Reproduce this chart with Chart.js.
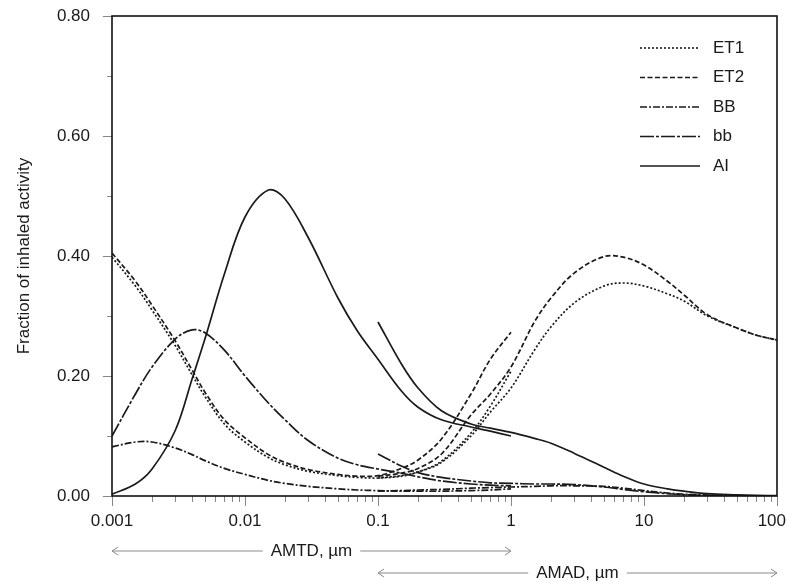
<!DOCTYPE html>
<html>
<head>
<meta charset="utf-8">
<script src="https://cdn.jsdelivr.net/npm/chart.js@4.4.1/dist/chart.umd.min.js"></script>
<style>
  html, body { margin: 0; padding: 0; background: #fff; }
  #wrap { width: 790px; height: 581px; }
</style>
</head>
<body>
<div id="wrap"><canvas id="deposition"></canvas></div>
<script>
// --- particle sizes (µm) ---
const amtdSizes = [0.001, 0.0015, 0.002, 0.003, 0.004, 0.005, 0.007, 0.01, 0.015, 0.02, 0.03, 0.05, 0.07, 0.1, 0.15, 0.2, 0.3, 0.5, 0.7, 1];
const amadSizes = [0.1, 0.15, 0.2, 0.3, 0.5, 0.7, 1, 1.5, 2, 3, 5, 7, 10, 15, 20, 30, 50, 70, 100];

// --- deposited fraction vs AMTD ---
const et1Amtd = [0.398, 0.35, 0.31, 0.25, 0.202, 0.166, 0.12, 0.09, 0.064, 0.052, 0.041, 0.034, 0.031, 0.03, 0.033, 0.04, 0.058, 0.105, 0.15, 0.208];
const et2Amtd = [0.405, 0.358, 0.318, 0.258, 0.21, 0.173, 0.127, 0.097, 0.069, 0.056, 0.044, 0.036, 0.033, 0.034, 0.046, 0.06, 0.095, 0.17, 0.228, 0.273];
const bbAmtd  = [0.082, 0.09, 0.09, 0.08, 0.069, 0.059, 0.046, 0.036, 0.026, 0.021, 0.016, 0.012, 0.01, 0.009, 0.008, 0.008, 0.008, 0.009, 0.01, 0.012];
const bbsAmtd = [0.10, 0.17, 0.215, 0.262, 0.277, 0.272, 0.243, 0.2, 0.155, 0.127, 0.092, 0.063, 0.052, 0.045, 0.038, 0.032, 0.025, 0.02, 0.018, 0.017];
const aiAmtd  = [0.003, 0.02, 0.045, 0.11, 0.195, 0.262, 0.37, 0.465, 0.51, 0.495, 0.43, 0.33, 0.275, 0.228, 0.175, 0.148, 0.127, 0.115, 0.108, 0.10];

// --- deposited fraction vs AMAD ---
const et1Amad = [0.03, 0.034, 0.04, 0.056, 0.1, 0.14, 0.18, 0.243, 0.282, 0.322, 0.35, 0.355, 0.35, 0.337, 0.325, 0.3, 0.28, 0.268, 0.26];
const et2Amad = [0.033, 0.038, 0.046, 0.07, 0.135, 0.17, 0.215, 0.29, 0.33, 0.372, 0.399, 0.398, 0.385, 0.358, 0.335, 0.302, 0.28, 0.268, 0.26];
const bbAmad  = [0.008, 0.009, 0.01, 0.011, 0.013, 0.014, 0.015, 0.016, 0.017, 0.017, 0.016, 0.013, 0.009, 0.005, 0.003, 0.0015, 0.0005, 0.0002, 0];
const bbsAmad = [0.07, 0.05, 0.039, 0.031, 0.025, 0.022, 0.021, 0.02, 0.02, 0.019, 0.015, 0.011, 0.007, 0.004, 0.002, 0.001, 0.0005, 0.0002, 0];
const aiAmad  = [0.29, 0.22, 0.18, 0.142, 0.12, 0.113, 0.106, 0.096, 0.088, 0.071, 0.048, 0.033, 0.02, 0.012, 0.008, 0.004, 0.002, 0.001, 0.0005];

// --- axis ticks ---
const xTickValues = [0.001, 0.01, 0.1, 1, 10, 100];
const xTickLabels = ['0.001', '0.01', '0.1', '1', '10', '100'];
const yTickValues = [0, 0.2, 0.4, 0.6, 0.8];

// region names with their line styles
const regions = [
  { name: 'ET1', dash: [2, 2],          amtd: et1Amtd, amad: et1Amad },
  { name: 'ET2', dash: [5, 2.5],        amtd: et2Amtd, amad: et2Amad },
  { name: 'BB',  dash: [7, 2, 2, 2],    amtd: bbAmtd,  amad: bbAmad },
  { name: 'bb',  dash: [14, 2, 3, 2],   amtd: bbsAmtd, amad: bbsAmad },
  { name: 'AI',  dash: [],              amtd: aiAmtd,  amad: aiAmad }
];

const FONT = "'Liberation Sans', Arial, Helvetica, sans-serif";
const INK = '#1a1a1a';

const toPoints = (xs, ys) => xs.map((x, i) => ({ x: x, y: ys[i] }));

const datasets = [];
regions.forEach(r => {
  [[amtdSizes, r.amtd, 'AMTD'], [amadSizes, r.amad, 'AMAD']].forEach(([xs, ys, tag]) => {
    datasets.push({
      label: r.name + ' ' + tag,
      data: toPoints(xs, ys),
      borderColor: INK,
      borderWidth: 1.7,
      borderDash: r.dash,
      pointRadius: 0,
      fill: false,
      tension: 0.35
    });
  });
});

// frame, tick marks + labels, size-range arrows and legend
const decorPlugin = {
  id: 'decor',
  afterDraw(chart) {
    const ctx = chart.ctx;
    const a = chart.chartArea;
    const xs = chart.scales.x;
    const ys = chart.scales.y;
    ctx.save();

    // x tick marks: decades long, 2..9 short
    ctx.strokeStyle = '#888';
    ctx.lineWidth = 1;
    for (let e = -3; e <= 2; e++) {
      for (let m = 1; m <= 9; m++) {
        const v = m * Math.pow(10, e);
        if (v > 100.0001) break;
        const px = Math.round(xs.getPixelForValue(v)) + 0.5;
        ctx.beginPath();
        ctx.moveTo(px, a.bottom);
        ctx.lineTo(px, a.bottom + (m === 1 ? 10 : 6));
        ctx.stroke();
      }
    }
    // y tick marks
    for (let v = 0; v <= 0.8001; v += 0.1) {
      const py = Math.round(ys.getPixelForValue(v)) + 0.5;
      const major = Math.abs(v / 0.2 - Math.round(v / 0.2)) < 1e-6;
      ctx.beginPath();
      ctx.moveTo(a.left, py);
      ctx.lineTo(a.left - (major ? 9 : 5), py);
      ctx.stroke();
    }

    // x tick labels, kept inside the canvas at the right end
    ctx.font = '17px ' + FONT;
    ctx.fillStyle = INK;
    ctx.textBaseline = 'middle';
    ctx.textAlign = 'center';
    xTickValues.forEach((v, i) => {
      const w = ctx.measureText(xTickLabels[i]).width;
      const px = Math.min(xs.getPixelForValue(v), chart.width - w / 2 - 4);
      ctx.fillText(xTickLabels[i], px, 521);
    });

    // plot frame
    ctx.strokeStyle = '#111';
    ctx.lineWidth = 1.6;
    ctx.strokeRect(a.left, a.top, a.right - a.left, a.bottom - a.top);

    // size-range arrows under the axis
    ctx.font = '17px ' + FONT;
    const arrow = (v0, v1, y, text) => {
      const x0 = xs.getPixelForValue(v0);
      const x1 = xs.getPixelForValue(v1);
      const cx = (x0 + x1) / 2;
      const w = ctx.measureText(text).width;
      ctx.strokeStyle = '#8a8a8a';
      ctx.lineWidth = 1;
      ctx.beginPath();
      ctx.moveTo(x0, y); ctx.lineTo(cx - w / 2 - 8, y);
      ctx.moveTo(cx + w / 2 + 8, y); ctx.lineTo(x1, y);
      ctx.moveTo(x0 + 6, y - 4); ctx.lineTo(x0, y); ctx.lineTo(x0 + 6, y + 4);
      ctx.moveTo(x1 - 6, y - 4); ctx.lineTo(x1, y); ctx.lineTo(x1 - 6, y + 4);
      ctx.stroke();
      ctx.fillStyle = INK;
      ctx.fillText(text, cx, y);
    };
    arrow(0.001, 1, 551, 'AMTD, µm');
    arrow(0.1, 100, 573, 'AMAD, µm');

    // legend
    ctx.textAlign = 'left';
    ctx.font = '17px ' + FONT;
    regions.forEach((r, i) => {
      const y = 48 + i * 29.5;
      ctx.strokeStyle = INK;
      ctx.lineWidth = 1.6;
      ctx.setLineDash(r.dash);
      ctx.beginPath();
      ctx.moveTo(640, y);
      ctx.lineTo(700, y);
      ctx.stroke();
      ctx.setLineDash([]);
      ctx.fillStyle = INK;
      ctx.fillText(r.name, 713, y);
    });

    ctx.restore();
  }
};

new Chart(document.getElementById('deposition'), {
  type: 'line',
  data: { datasets: datasets },
  options: {
    responsive: true,
    maintainAspectRatio: false,
    animation: false,
    layout: { padding: { left: 0, right: 13, top: 16, bottom: 0 } },
    plugins: {
      legend: { display: false },
      tooltip: { enabled: false }
    },
    scales: {
      x: {
        type: 'logarithmic',
        min: 0.001,
        max: 100,
        grid: { display: false },
        border: { display: false },
        afterBuildTicks: s => { s.ticks = xTickValues.map(v => ({ value: v })); },
        afterFit: s => { s.height = 85; s.paddingLeft = 0; s.paddingRight = 0; },
        ticks: { display: false }
      },
      y: {
        min: 0,
        max: 0.8,
        grid: { display: false },
        border: { display: false },
        afterBuildTicks: s => { s.ticks = yTickValues.map(v => ({ value: v })); },
        afterFit: s => { s.width = 112; s.paddingTop = 0; s.paddingBottom = 0; },
        ticks: {
          padding: 14,
          color: INK,
          font: { family: FONT, size: 17 },
          callback: v => Number(v).toFixed(2)
        },
        title: {
          display: true,
          text: 'Fraction of inhaled activity',
          color: INK,
          font: { family: FONT, size: 17 },
          padding: { top: 14, bottom: 0 }
        }
      }
    }
  },
  plugins: [decorPlugin]
});
</script>
</body>
</html>
